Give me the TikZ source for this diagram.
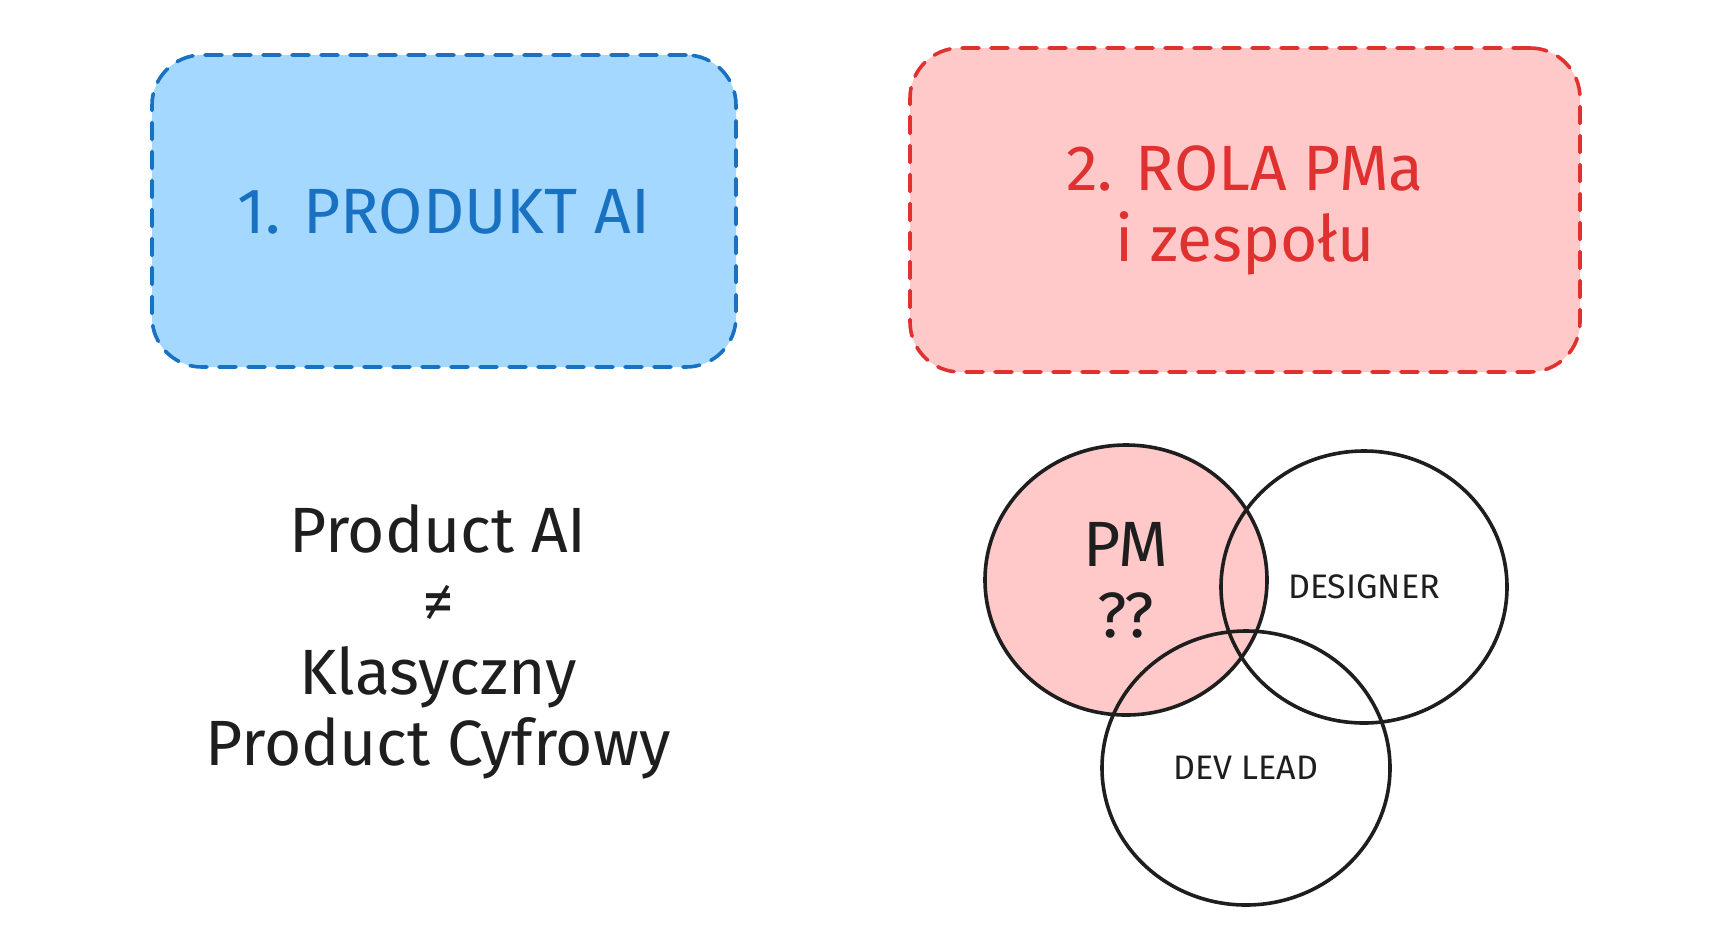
\documentclass[tikz,border=0pt]{standalone}
\usepackage{fontspec}
\setmainfont{Fira Sans}
\usepackage{xcolor}
\usepackage{tikz}
\usetikzlibrary{shapes.geometric, positioning}
\definecolor{aiblue}{HTML}{1971C2}
\definecolor{aifill}{HTML}{A5D8FF}
\definecolor{pmred}{HTML}{E03131}
\definecolor{pmfill}{HTML}{FFC9C9}
\definecolor{ink}{HTML}{1E1E1E}
\tikzstyle{topic} = [rectangle, rounded corners=25pt, line width=1.8pt, dash pattern=on 8.5pt off 6pt, line cap=round, text centered, align=center]
\tikzstyle{role} = [ellipse, draw=ink, line width=1.8pt, inner sep=0pt, text=ink, text centered, align=center]
\tikzstyle{bigtext} = [font=\fontsize{32}{35.5}\selectfont]
\tikzstyle{smalltext} = [font=\fontsize{17}{20}\selectfont]

\begin{document}
\begin{tikzpicture}[x=0.5pt, y=-0.5pt]
            \useasboundingbox (0,0) rectangle (1718,944);
            % Nodes
            \node [topic, draw=aiblue, fill=aifill, text=aiblue, bigtext, minimum width=292pt, minimum height=156pt] (produkt) at (444,211) {1. PRODUKT AI};
            \node [topic, draw=pmred, fill=pmfill, text=pmred, bigtext, minimum width=335pt, minimum height=162pt] (rola) at (1245,210) {2. ROLA PMa\\i zespołu};
            \node [bigtext, text=ink, align=center] (versus) at (438,642) {Product AI\\≠\\Klasyczny\\Product Cyfrowy};

            % Venn
            \node [role, fill=pmfill, bigtext, minimum width=141pt, minimum height=135pt] (pm) at (1126,580) {PM\\??};
            \node [role, smalltext, minimum width=143pt, minimum height=136pt] (designer) at (1364,587) {DESIGNER};
            \node [role, smalltext, minimum width=144pt, minimum height=137pt] (devlead) at (1246,768) {DEV LEAD};
        \end{tikzpicture}
\end{document}
